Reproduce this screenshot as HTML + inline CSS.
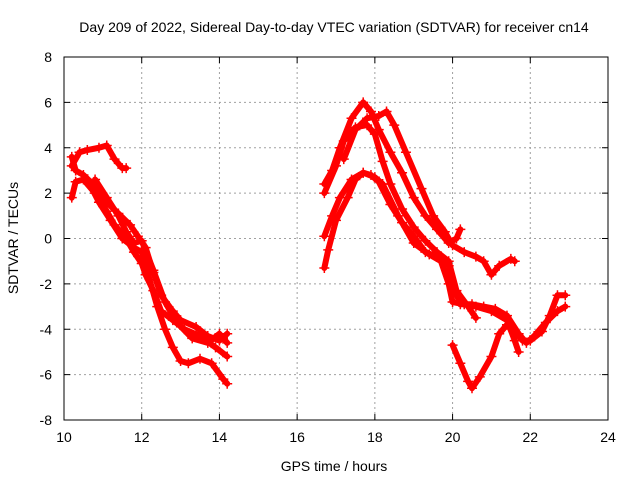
<!DOCTYPE html>
<html><head><meta charset="utf-8"><style>
body{margin:0;background:#fff;}
text{font-family:"Liberation Sans",sans-serif;font-size:14px;fill:#000;}
</style></head><body>
<svg id="chart" width="640" height="480" viewBox="0 0 640 480">
<rect width="640" height="480" fill="#fff"/>
<g id="grid"></g>
<g id="series"></g>
<rect x="64" y="57" width="544" height="363" fill="none" stroke="#000" stroke-width="1"/>
<g id="ticks"></g>
<text x="334" y="32" text-anchor="middle">Day 209 of 2022, Sidereal Day-to-day VTEC variation (SDTVAR) for receiver cn14</text>
<text x="334" y="471" text-anchor="middle">GPS time / hours</text>
<text x="18" y="238" text-anchor="middle" transform="rotate(-90 18 238)">SDTVAR / TECUs</text>
</svg>
<script>
const xTicks=[10,12,14,16,18,20,22,24];
const yTicks=[-8,-6,-4,-2,0,2,4,6,8];
const sA=[[10.2,3.2],[10.4,3.8],[10.6,3.9],[10.9,4.0],[11.1,4.1],[11.3,3.5],[11.5,3.1],[11.6,3.1]];
const sB=[[10.2,3.6],[10.3,3.0],[10.5,2.8],[10.8,2.3],[11.1,1.6],[11.4,1.1],[11.7,0.6],[11.9,0.1],[12.1,-0.4],[12.3,-1.5],[12.5,-2.5],[12.8,-3.2],[13.0,-3.6],[13.4,-3.9],[13.7,-4.3],[14.0,-4.5],[14.2,-4.2]];
const sC=[[10.2,1.8],[10.3,2.5],[10.5,2.6],[10.8,2.0],[11.1,1.2],[11.3,0.6],[11.6,0.0],[11.8,-0.6],[12.0,-1.1],[12.1,-1.6],[12.3,-2.3],[12.5,-3.2],[12.8,-3.6],[13.1,-4.0],[13.5,-4.3],[13.9,-4.8],[14.2,-5.2]];
const sD=[[10.6,2.6],[10.9,1.6],[11.2,0.8],[11.5,0.0],[11.8,-0.4],[12.0,-0.6],[12.2,-1.8],[12.4,-3.0],[12.6,-4.0],[12.8,-4.8],[13.0,-5.4],[13.2,-5.5],[13.5,-5.3],[13.8,-5.5],[14.1,-6.2],[14.2,-6.4]];
const sE=[[10.8,2.6],[11.1,1.8],[11.4,1.0],[11.6,0.3],[11.8,-0.2],[12.0,-0.1],[12.3,-1.4],[12.6,-2.8],[12.9,-3.7],[13.3,-4.4],[13.7,-4.6],[14.0,-4.2],[14.2,-4.6]];
const sR1=[[16.7,0.1],[16.9,1.0],[17.1,1.8],[17.4,2.6],[17.7,2.9],[18.0,2.7],[18.2,2.4],[18.6,1.0],[19.0,-0.2],[19.4,-0.7],[19.7,-1.0],[19.9,-2.0],[20.0,-2.8],[20.3,-2.9],[20.6,-3.0],[21.0,-3.2],[21.4,-3.6],[21.6,-4.5],[21.7,-5.0]];
const sR2=[[16.7,-1.3],[16.8,-0.5],[17.0,0.8],[17.3,1.8],[17.5,2.6],[17.7,2.9],[17.9,2.8],[18.1,2.5],[18.4,1.5],[18.7,0.7],[19.0,0.1],[19.3,-0.6],[19.6,-0.8],[19.9,-1.2],[20.0,-2.0],[20.2,-2.9],[20.5,-2.9],[20.8,-3.0],[21.1,-3.1],[21.4,-3.4],[21.7,-4.2],[21.9,-4.6],[22.1,-4.3],[22.4,-3.7],[22.7,-3.2],[22.9,-3.0]];
const sR3=[[16.7,2.4],[16.9,3.0],[17.1,4.0],[17.4,5.3],[17.7,6.0],[17.9,5.6],[18.1,4.8],[18.4,3.8],[18.7,2.9],[19.0,1.8],[19.3,1.0],[19.6,0.4],[19.9,-0.2],[20.1,0.0],[20.2,0.4]];
const sR4=[[16.7,2.0],[17.0,3.2],[17.2,4.3],[17.5,4.9],[17.8,5.0],[18.0,4.6],[18.2,3.4],[18.4,2.4],[18.7,1.3],[19.0,0.5],[19.3,-0.1],[19.6,-0.6],[19.9,-1.0],[20.1,-2.3],[20.4,-3.0],[20.6,-3.5]];
const sR5=[[17.2,3.5],[17.5,4.8],[17.8,5.3],[18.1,5.4],[18.3,5.6],[18.5,5.0],[18.8,3.8],[19.2,2.2],[19.5,1.0],[19.8,0.3],[20.0,-0.3],[20.3,-0.6],[20.6,-0.8],[20.8,-1.0],[21.0,-1.6],[21.2,-1.2],[21.5,-0.9],[21.6,-1.0]];
const sR6=[[20.0,-4.7],[20.2,-5.5],[20.4,-6.3],[20.5,-6.6],[20.7,-6.1],[21.0,-5.2],[21.2,-4.2],[21.4,-3.8],[21.6,-4.1],[21.8,-4.5],[22.0,-4.5],[22.3,-4.1],[22.5,-3.4],[22.7,-2.5],[22.9,-2.5]];
const allSeries=[sA,sB,sC,sD,sE,sR1,sR2,sR3,sR4,sR5,sR6];

const NS='http://www.w3.org/2000/svg';
const X=h=>64+(h-10)*(544/14);
const Y=v=>238.5-v*(363/16);
const grid=document.getElementById('grid'),ticks=document.getElementById('ticks'),ser=document.getElementById('series');
function mk(tag,attrs,parent){const e=document.createElementNS(NS,tag);for(const k in attrs)e.setAttribute(k,attrs[k]);parent.appendChild(e);return e;}
xTicks.forEach(t=>{
  const x=X(t);
  if(t>10&&t<24){const g=mk('line',{x1:x,x2:x,y1:57,y2:420,stroke:'#a0a0a0','stroke-dasharray':'2,3'},grid);
  
  }
  mk('line',{x1:x,x2:x,y1:420,y2:414,stroke:'#000'},ticks);
  mk('line',{x1:x,x2:x,y1:57,y2:63,stroke:'#000'},ticks);
  const l=mk('text',{x:x,y:442,'text-anchor':'middle','font-size':13},ticks);l.textContent=t;
  
  
});
yTicks.forEach(t=>{
  const y=Y(t);
  if(t>-8&&t<8){const g=mk('line',{x1:64,x2:608,y1:y,y2:y,stroke:'#a0a0a0','stroke-dasharray':'2,3'},grid);
  
  }
  mk('line',{x1:64,x2:70,y1:y,y2:y,stroke:'#000'},ticks);
  mk('line',{x1:602,x2:608,y1:y,y2:y,stroke:'#000'},ticks);
  const l=mk('text',{x:52,y:y+5,'text-anchor':'end','font-size':13},ticks);l.textContent=t;
  
  
});
allSeries.forEach((s,i)=>{
  const g=mk('g',{},ser);
  
  
  mk('polyline',{points:s.map(p=>X(p[0])+','+Y(p[1])).join(' '),fill:'none',stroke:'#f00','stroke-width':6,'stroke-linejoin':'round','stroke-linecap':'round'},g);
  s.forEach(p=>{
    const x=X(p[0]),y=Y(p[1]);
    mk('path',{d:`M${x-5},${y}H${x+5}M${x},${y-5}V${y+5}`,stroke:'#f00','stroke-width':1.5},g);
  });
});
</script>
</body></html>
